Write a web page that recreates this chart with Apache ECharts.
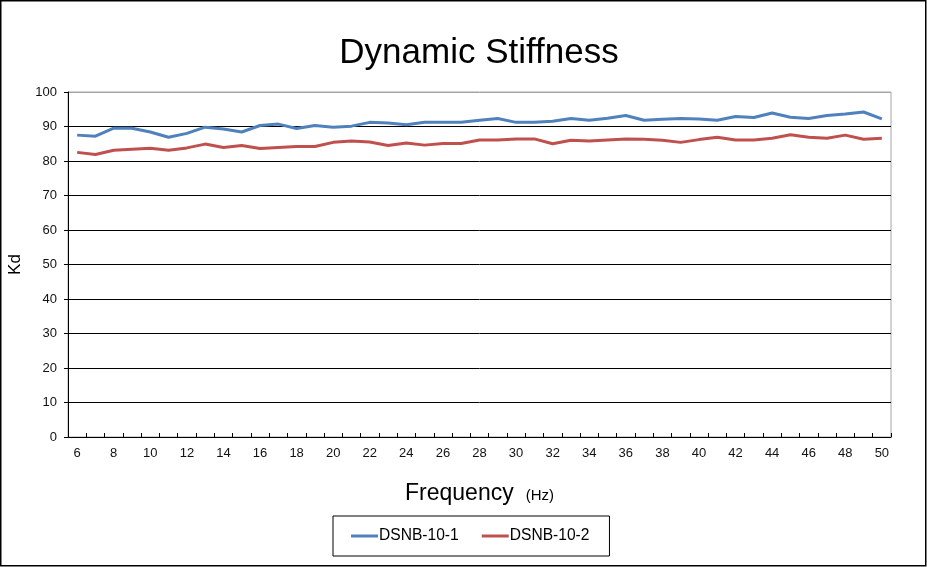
<!DOCTYPE html>
<html>
<head>
<meta charset="utf-8">
<script src="https://cdn.jsdelivr.net/npm/echarts@6/dist/echarts.min.js"></script>
<style>
html,body{margin:0;padding:0;background:#fff;}
#chart{width:927px;height:567px;}
</style>
</head>
<body>
<div id="chart"></div>
<script>
const frequencies = [6,7,8,9,10,11,12,13,14,15,16,17,18,19,20,21,22,23,24,25,26,27,28,29,30,31,32,33,34,35,36,37,38,39,40,41,42,43,44,45,46,47,48,49,50];
const dsnb101 = [87.5,87.2,89.5,89.5,88.4,86.9,88.0,89.8,89.3,88.4,90.3,90.7,89.4,90.3,89.8,90.1,91.2,91.0,90.5,91.2,91.2,91.2,91.8,92.3,91.2,91.2,91.5,92.3,91.8,92.4,93.2,91.8,92.1,92.3,92.2,91.8,92.9,92.6,93.9,92.7,92.3,93.2,93.6,94.2,92.2];
const dsnb102 = [82.5,81.9,83.1,83.4,83.7,83.1,83.8,84.9,83.9,84.5,83.6,83.9,84.2,84.2,85.4,85.8,85.5,84.5,85.2,84.6,85.1,85.1,86.1,86.1,86.4,86.4,85.0,86.0,85.8,86.1,86.4,86.3,86.0,85.4,86.2,86.9,86.1,86.1,86.6,87.6,86.9,86.6,87.5,86.3,86.6];
const yTicks = [0,10,20,30,40,50,60,70,80,90,100];
const seriesNames = ['DSNB-10-1','DSNB-10-2'];

const FONT = '"Liberation Sans", Arial, sans-serif';
const chart = echarts.init(document.getElementById('chart'), null, {renderer:'canvas'});
const splitColors = yTicks.map((v,i)=> i === yTicks.length-1 ? '#a6a6a6' : '#000');

chart.setOption({
  animation:false,
  backgroundColor:'#fff',
  title:{
    text:'Dynamic Stiffness',
    left:474, top:31, textAlign:'center',
    textStyle:{fontFamily:FONT, fontSize:35, fontWeight:'normal', color:'#000'}
  },
  legend:{
    data:seriesNames,
    left:333, top:516,
    padding:[12,20,12,18],
    borderColor:'#000', borderWidth:1,
    itemWidth:27, itemHeight:3, itemGap:23,
    icon:'rect',
    textStyle:{fontFamily:FONT, fontSize:15.6, color:'#000', padding:[0,0,0,-4]}
  },
  grid:{left:68, top:92, width:823, height:345, show:true, borderColor:'#a6a6a6', borderWidth:1, containLabel:false, outerBoundsMode:'none'},
  xAxis:{
    type:'category',
    data:frequencies,
    boundaryGap:true,
    name:'{a|Frequency}{b|(Hz)}',
    nameLocation:'middle',
    nameGap:45,
    nameTextStyle:{rich:{
      a:{fontFamily:FONT, fontSize:23, color:'#000'},
      b:{fontFamily:FONT, fontSize:15, color:'#000', padding:[4,0,0,12]}
    }},
    axisLine:{lineStyle:{color:'#000', width:1}},
    axisTick:{show:true, inside:true, length:4, interval:0, lineStyle:{color:'#000'}},
    axisLabel:{interval:1, margin:10, fontFamily:FONT, fontSize:13, color:'#111'},
    splitLine:{show:false}
  },
  yAxis:{
    type:'value',
    min:0, max:100, interval:10,
    name:'Kd',
    nameLocation:'middle',
    nameGap:44,
    nameTextStyle:{fontFamily:FONT, fontSize:17, color:'#000'},
    axisLine:{show:true, lineStyle:{color:'#000', width:1}},
    axisTick:{show:true, inside:false, length:4, lineStyle:{color:'#000'}},
    axisLabel:{margin:11, fontFamily:FONT, fontSize:13, color:'#111'},
    splitLine:{show:true, lineStyle:{color:splitColors, width:1}}
  },
  series:[
    {name:seriesNames[0], type:'line', data:dsnb101, symbol:'none', lineStyle:{color:'#4F81BD', width:3}, itemStyle:{color:'#4F81BD'}},
    {name:seriesNames[1], type:'line', data:dsnb102, symbol:'none', lineStyle:{color:'#C0504D', width:3}, itemStyle:{color:'#C0504D'}}
  ],
  graphic:[
    {type:'rect', silent:true, z:100, shape:{x:0.75, y:0.75, width:925, height:565}, style:{fill:null, stroke:'#000', lineWidth:1.5}}
  ]
});
</script>
</body>
</html>
